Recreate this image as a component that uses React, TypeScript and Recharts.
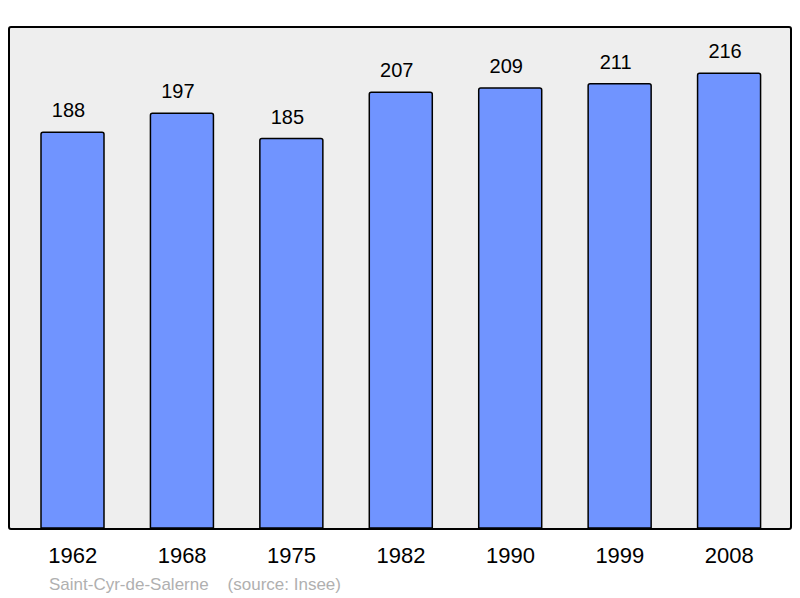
import React from "react";
import { BarChart, Bar, XAxis, YAxis, LabelList } from "recharts";

const years = ["1962", "1968", "1975", "1982", "1990", "1999", "2008"];
const population = [188, 197, 185, 207, 209, 211, 216];
const commune = "Saint-Cyr-de-Salerne";
const source = "(source: Insee)";

const data = years.map((y, i) => ({ year: y, pop: population[i] }));

export default function App() {
  return (
    <div style={{ position: "absolute", left: 0, top: 0, width: 800, height: 598, background: "#fff", fontFamily: "'Liberation Sans', Arial, sans-serif" }}>
      <div style={{ position: "absolute", left: 8, top: 26, width: 780, height: 500, background: "#eeeeee", border: "2px solid #000", borderRadius: 3 }} />
      <div style={{ position: "absolute", left: 0, top: 0 }}>
        <BarChart width={800} height={598} data={data} margin={{ top: 27, right: 9, bottom: 20, left: 9 }} barSize={63}>
          <XAxis dataKey="year" axisLine={false} tickLine={false} height={50} padding={{ left: 9, right: 7 }}
            tick={{ fill: "#000", fontSize: 22, fontFamily: "'Liberation Sans', Arial, sans-serif" }} tickMargin={13} />
          <YAxis hide domain={[0, 238]} />
          <Bar dataKey="pop" fill="#7094ff" stroke="#000" strokeWidth={1.5} radius={[2, 2, 0, 0]} isAnimationActive={false}>
            <LabelList dataKey="pop" position="top" offset={15} dx={-4} fill="#000" fontSize={20} fontFamily="'Liberation Sans', Arial, sans-serif" />
          </Bar>
        </BarChart>
      </div>
      <div style={{ position: "absolute", left: 49, top: 575, fontSize: 17, color: "#b0b0b0", whiteSpace: "pre" }}>
        {commune + "    " + source}
      </div>
    </div>
  );
}
